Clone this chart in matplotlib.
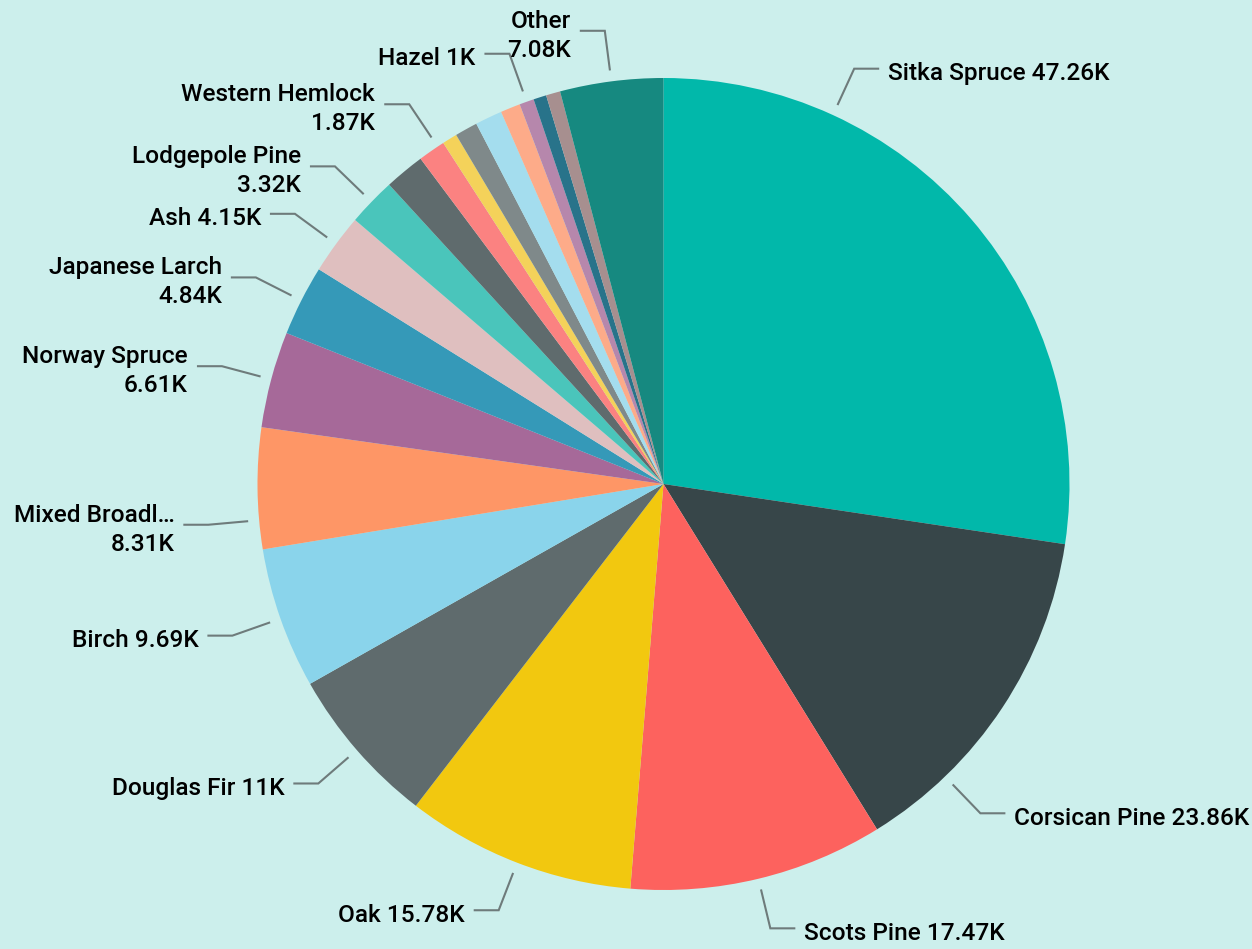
import matplotlib
matplotlib.use('Agg')
import matplotlib.pyplot as plt
import numpy as np

# trees by species (thousands), clockwise from 12 o'clock
species = ['Sitka Spruce', 'Corsican Pine', 'Scots Pine', 'Oak', 'Douglas Fir',
           'Birch', 'Mixed Broadleaves', 'Norway Spruce', 'Japanese Larch', 'Ash',
           'Lodgepole Pine', '', 'Western Hemlock', '', '', '', '', 'Hazel', '', '',
           'Other']
values = [47.26, 23.86, 17.47, 15.78, 11, 9.69, 8.31, 6.61, 4.84, 4.15,
          3.32, 2.76, 1.87, 1.03, 1.56, 1.86, 1.36, 1, 0.89, 0.98,
          7.08]
colors = ['#01B8AA', '#374649', '#FD625E', '#F2C80F', '#5F6B6D',
          '#8AD4EB', '#FE9666', '#A66999', '#3599B8', '#DFBFBF',
          '#4AC5BB', '#5F6B6D', '#FB8281', '#F4D25A', '#7F898A',
          '#A4DDEE', '#FDAB89', '#B687AC', '#28738A', '#A78F8F',
          '#168980']

# labels that get split onto two lines, and labels nudged along the rim (deg, clockwise)
two_line = {'Mixed Broadleaves', 'Norway Spruce', 'Japanese Larch',
            'Lodgepole Pine', 'Western Hemlock', 'Other'}
label_shift = {'Sitka Spruce': -24.6, 'Corsican Pine': 12.7,
               'Mixed Broadleaves': -4.5, 'Western Hemlock': 1.0}

BG = '#CCEFEC'
LINE = '#6E7B7B'
FONT = ['Roboto', 'DejaVu Sans']
FS = 17.6


def short(name):
    if len(name) > 15:
        return name[:12] + '\u2026'
    return name


def main():
    W, H = 1252, 949
    fig = plt.figure(figsize=(W / 100, H / 100), dpi=100)
    fig.patch.set_facecolor(BG)
    ax = fig.add_axes([0, 0, 1, 1])
    ax.set_facecolor(BG)

    cx, cy, R = 663.5, H - 484, 406
    wedges, _ = ax.pie(values, colors=colors, startangle=90, counterclock=False,
                       center=(cx, cy), radius=R, wedgeprops=dict(linewidth=0))
    ax.set_xlim(0, W)
    ax.set_ylim(0, H)
    ax.set_aspect('equal')
    ax.axis('off')

    txt = dict(fontsize=FS, family=FONT, weight='medium', color='black', va='baseline')
    for w, name, v in zip(wedges, species, values):
        if not name:
            continue
        a = np.radians((w.theta1 + w.theta2) / 2 - label_shift.get(name, 0))
        d = np.array([np.cos(a), np.sin(a)])
        p0 = np.array([cx, cy]) + (R + 11) * d
        p1 = np.array([cx, cy]) + (R + 51) * d
        side = 1 if d[0] >= 0 else -1
        p2 = p1 + [side * 25, 0]
        ax.plot([p0[0], p1[0], p2[0]], [p0[1], p1[1], p2[1]], color=LINE,
                lw=1.5, solid_capstyle='butt', solid_joinstyle='miter')
        tx = p2[0] + side * 9
        ha = 'left' if side > 0 else 'right'
        val = f'{v:g}K'
        if name in two_line:
            ax.text(tx, p1[1] + 3, short(name), ha=ha, **txt)
            ax.text(tx, p1[1] - 26, val, ha=ha, **txt)
        else:
            ax.text(tx, p1[1] - 11.5, f'{short(name)} {val}', ha=ha, **txt)

    fig.savefig('out.png', dpi=100, facecolor=BG)


if __name__ == '__main__':
    main()
